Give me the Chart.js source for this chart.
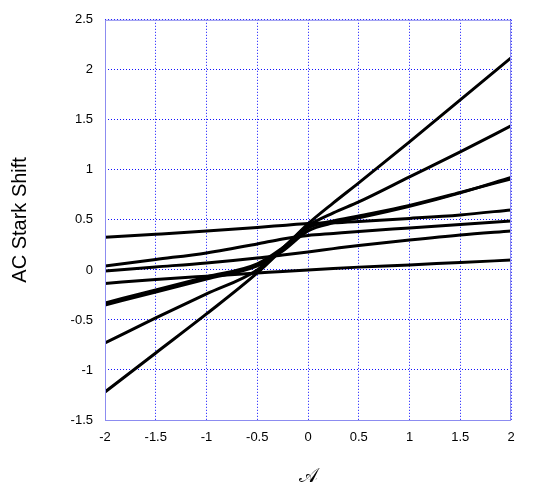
<!DOCTYPE html>
<html>
<head>
<meta charset="utf-8">
<script src="https://cdn.jsdelivr.net/npm/chart.js@4/dist/chart.umd.min.js"></script>
<style>
    html, body { margin: 0; padding: 0; background: #fff; }
    #wrap { width: 545px; height: 501px; }
</style>
</head>
<body>
<div id="wrap"><canvas id="starkChart" width="545" height="501"></canvas></div>
<script>
const xValues = [-2, -1.5, -1, -0.5, -0.25, 0, 0.25, 0.5, 1, 1.5, 2];

// AC Stark shift curves
const curveA = [-1.22, -0.83, -0.44, -0.03, 0.21, 0.46, 0.67, 0.87, 1.28, 1.70, 2.12];
const curveB = [-0.73, -0.48, -0.24, 0.00, 0.22, 0.44, 0.57, 0.68, 0.93, 1.18, 1.44];
const curveD1 = [-0.33, -0.20, -0.07, 0.06, 0.22, 0.42, 0.49, 0.54, 0.645, 0.775, 0.91];
const curveD2 = [-0.35, -0.22, -0.09, 0.04, 0.19, 0.39, 0.47, 0.52, 0.635, 0.77, 0.925];
const curveC = [0.326, 0.356, 0.388, 0.425, 0.445, 0.465, 0.472, 0.485, 0.515, 0.55, 0.60];
const curveE = [0.04, 0.105, 0.17, 0.26, 0.31, 0.345, 0.365, 0.385, 0.42, 0.455, 0.49];
const curveF = [-0.01, 0.03, 0.07, 0.12, 0.15, 0.18, 0.213, 0.245, 0.30, 0.35, 0.39];
const curveG = [-0.135, -0.095, -0.062, -0.031, -0.015, 0.0, 0.015, 0.028, 0.05, 0.075, 0.098];

const allCurves = [curveA, curveB, curveD1, curveD2, curveC, curveE, curveF, curveG];

function toPoints(ys) {
    return xValues.map((x, i) => ({ x: x, y: ys[i] }));
}

// plain tick text: 2 not 2.0
function plainTick(value) {
    return String(Math.round(value * 10) / 10);
}

// draws the solid frame round the plot area
const frameBox = {
    id: 'frameBox',
    afterDatasetsDraw(chart) {
        const a = chart.chartArea;
        const ctx = chart.ctx;
        ctx.save();
        ctx.strokeStyle = '#8c8cf0';
        ctx.lineWidth = 1;
        ctx.strokeRect(a.left + 0.5, a.top + 0.5, a.right - a.left - 1, a.bottom - a.top);
        ctx.restore();
    }
};

const gridStyle = {
    color: '#1010ff',
    lineWidth: 1,
    drawTicks: false
};

// in v4 the border dash is what dashes the grid lines
const borderStyle = {
    display: false,
    dash: [1, 2]
};

new Chart(document.getElementById('starkChart').getContext('2d'), {
    type: 'line',
    data: {
        datasets: allCurves.map(ys => ({
            data: toPoints(ys),
            borderColor: '#000',
            borderWidth: 3,
            pointRadius: 0,
            cubicInterpolationMode: 'monotone',
            fill: false
        }))
    },
    options: {
        responsive: false,
        animation: false,
        layout: { padding: { left: 0, right: 34, top: 15, bottom: 0 } },
        plugins: {
            legend: { display: false },
            tooltip: { enabled: false }
        },
        scales: {
            x: {
                type: 'linear',
                min: -2,
                max: 2,
                ticks: {
                    stepSize: 0.5,
                    color: '#000',
                    padding: 10,
                    maxRotation: 0,
                    callback: plainTick,
                    font: { family: 'Liberation Sans, Arial, sans-serif', size: 13 }
                },
                grid: gridStyle,
                border: borderStyle,
                title: {
                    display: true,
                    text: '𝒜',
                    color: '#000',
                    padding: { top: 0, bottom: 12 },
                    font: { family: 'DejaVu Serif, DejaVu Sans, serif', size: 20 }
                },
                afterFit: function (scale) {
                    scale.height = 81;
                }
            },
            y: {
                type: 'linear',
                min: -1.5,
                max: 2.5,
                ticks: {
                    stepSize: 0.5,
                    color: '#000',
                    padding: 12,
                    callback: plainTick,
                    font: { family: 'Liberation Sans, Arial, sans-serif', size: 13 }
                },
                grid: gridStyle,
                border: borderStyle,
                title: {
                    display: true,
                    text: 'AC Stark Shift',
                    color: '#000',
                    padding: { top: 8, bottom: 0 },
                    font: { family: 'Liberation Sans, Arial, sans-serif', size: 20 }
                },
                afterFit: function (scale) {
                    scale.width = 105;
                }
            }
        }
    },
    plugins: [frameBox]
});
</script>
</body>
</html>
